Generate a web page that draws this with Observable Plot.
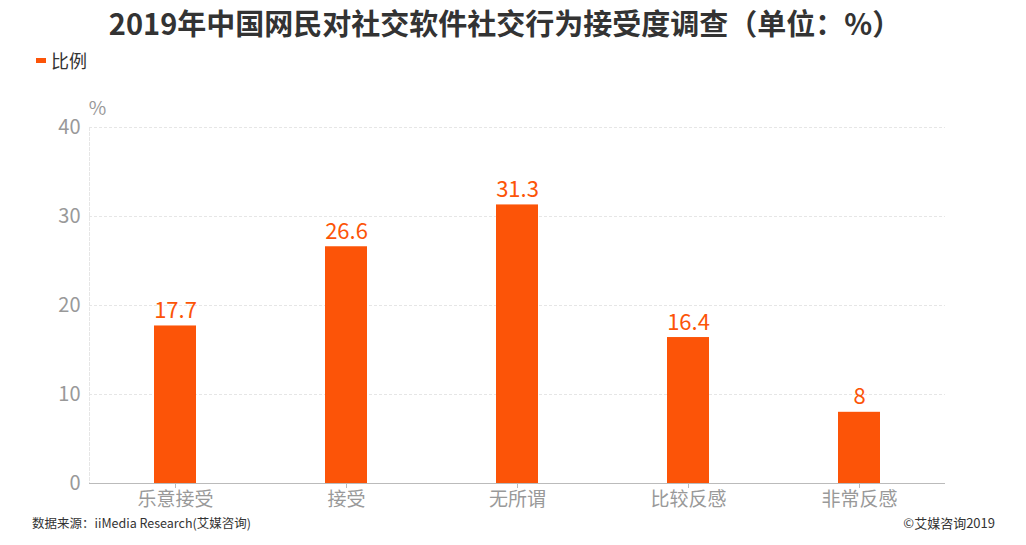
<!DOCTYPE html>
<html><head><meta charset="utf-8">
<script src="https://cdn.jsdelivr.net/npm/d3@7"></script>
<script src="https://cdn.jsdelivr.net/npm/@observablehq/plot@0.6"></script>
<style>
body{margin:0;width:1026px;height:545px;position:relative;overflow:hidden;background:#fff;font-family:"Noto Sans CJK SC","Noto Sans",sans-serif;}
#title{position:absolute;left:0;top:2px;width:1010px;text-align:center;font-size:29px;font-weight:bold;color:#333;line-height:40px;}
#legend{position:absolute;left:36px;top:48px;font-size:18px;color:#333;line-height:24px;display:flex;align-items:center;}
#legend span.sw{display:inline-block;width:10px;height:5px;background:#FC5408;margin-right:5px;}
#chart{position:absolute;left:0;top:80px;}
#src{position:absolute;left:32px;top:513px;font-size:12.5px;color:#333;line-height:20px;}
#copy{position:absolute;right:31px;top:513px;font-size:13px;color:#333;line-height:20px;}
</style></head>
<body>
<div id="title">2019年中国网民对社交软件社交行为接受度调查（单位：%）</div>
<div id="legend"><span class="sw"></span>比例</div>
<div id="chart"></div>
<div id="src">数据来源：iiMedia Research(艾媒咨询)</div>
<div id="copy">©艾媒咨询2019</div>
<script>
const categories = ["乐意接受","接受","无所谓","比较反感","非常反感"];
const values = [17.7, 26.6, 31.3, 16.4, 8];
const yTicks = [0,10,20,30,40];
const data = categories.map((c,i)=>({cat:c, v:values[i]}));
const orange = "#FC5408";
const plot = Plot.plot({
  width: 1026, height: 440,
  marginTop: 47, marginBottom: 37, marginLeft: 89, marginRight: 81,
  style: {fontFamily: '"Noto Sans CJK SC","Noto Sans",sans-serif', background: "#fff"},
  x: {domain: categories, paddingInner: 0.755, paddingOuter: 0.3775, label: null},
  y: {domain: [0,40], ticks: yTicks, label: null},
  marks: [
    Plot.gridY(yTicks.filter(d=>d>0), {stroke:"#e6e6e6", strokeOpacity:1, strokeDasharray:"3,2"}),
    Plot.frame({anchor:"left", stroke:"#e6e6e6", strokeDasharray:"3,2"}),
    Plot.barY(data, {x:"cat", y:"v", fill: orange}),
    Plot.ruleY([0], {stroke:"#bbb"}),
    Plot.axisY({ticks: yTicks, tickSize: 0, tickPadding: 9, fontSize: 20, color:"#999", label:null}),
    Plot.axisX({tickSize: 5, tickPadding: 4, fontSize: 19, color:"#999", stroke:"#bbb", label:null}),
    Plot.text(data, {x:"cat", y:"v", text: d=>String(d.v), lineAnchor:"bottom", dy:-8, fill: orange, fontSize: 22}),
    Plot.text(["%"], {frameAnchor:"top-left", dx: 8, dy: -26, fontSize: 19, fill:"#999", textAnchor:"middle"})
  ]
});
document.getElementById("chart").appendChild(plot);
</script>
</body></html>
